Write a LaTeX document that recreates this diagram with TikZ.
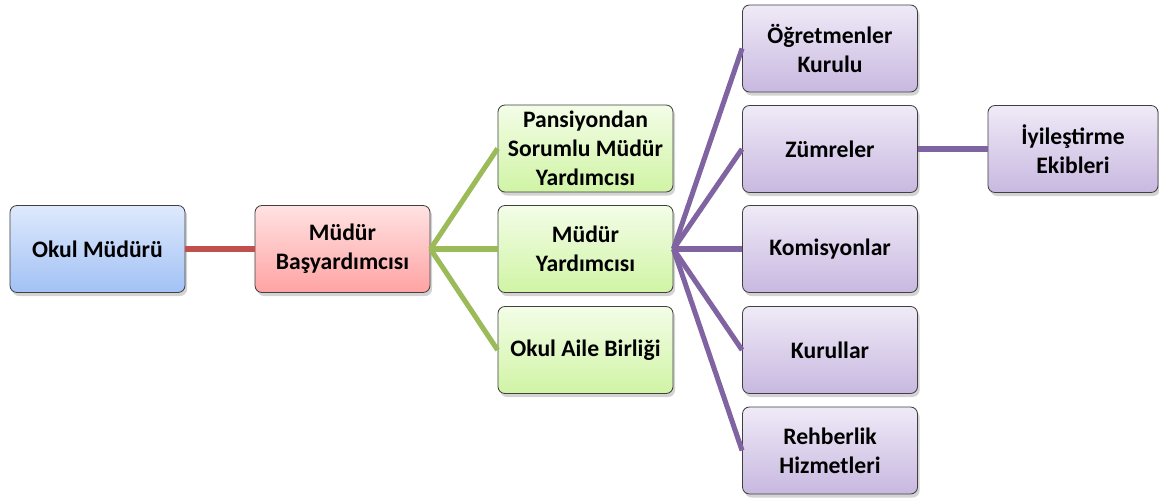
\documentclass[tikz,border=0pt]{standalone}
\usepackage{fontspec}
\setmainfont{Carlito}
\usetikzlibrary{shadows}

\definecolor{hatkirmizi}{HTML}{C0504D}
\definecolor{hatyesil}{HTML}{9BBB59}
\definecolor{hatmor}{HTML}{8064A2}

\tikzset{
  kutu/.style={draw=black!75, line width=0.6pt, rounded corners=5pt,
    minimum width=4.375cm, minimum height=2.175cm, align=center,
    font=\fontsize{16.8}{20.5}\selectfont\bfseries,
    drop shadow={shadow xshift=1.5pt, shadow yshift=-2.5pt, opacity=0.35}},
  mavi/.style={kutu, top color={rgb,255:red,222;green,233;blue,252}, bottom color={rgb,255:red,162;green,193;blue,245}},
  pembe/.style={kutu, top color={rgb,255:red,255;green,226;blue,226}, bottom color={rgb,255:red,255;green,163;blue,163}},
  yesil/.style={kutu, top color={rgb,255:red,243;green,253;blue,231}, bottom color={rgb,255:red,208;green,244;blue,165}},
  mor/.style={kutu, top color={rgb,255:red,239;green,234;blue,247}, bottom color={rgb,255:red,200;green,184;blue,224}},
  hat/.style={line width=3.6pt}
}

\begin{document}
\begin{tikzpicture}[x=0.025cm, y=-0.025cm]
    \useasboundingbox (0, 0) rectangle (1159, 500);

    \node[mavi] (okul) at (97.5, 249) {Okul Müdürü};
    \node[pembe] (basyar) at (342.5, 249) {Müdür\\Başyardımcısı};

    \node[yesil] (pansiyon) at (585.5, 148.5) {Pansiyondan\\Sorumlu Müdür\\Yardımcısı};
    \node[yesil] (myard) at (585.5, 249) {Müdür\\Yardımcısı};
    \node[yesil] (aile) at (585.5, 350) {Okul Aile Birliği};

    \node[mor] (ogretmen) at (830, 48.5) {Öğretmenler\\Kurulu};
    \node[mor] (zumre) at (830, 149) {Zümreler};
    \node[mor] (komisyon) at (830, 249) {Komisyonlar};
    \node[mor] (kurul) at (830, 350) {Kurullar};
    \node[mor] (rehber) at (830, 450.5) {Rehberlik\\Hizmetleri};

    \node[mor, minimum width=4.25cm] (iyiles) at (1073, 149) {İyileştirme\\Ekibleri};

    % baglantilar
    \draw[hat, hatkirmizi] (okul.east) -- (basyar.west);

    \begin{scope}[hat, hatyesil]
      \draw (basyar.east) -- (pansiyon.west);
      \draw (basyar.east) -- (myard.west);
      \draw (basyar.east) -- (aile.west);
    \end{scope}

    \begin{scope}[hat, hatmor]
      \foreach \hedef in {ogretmen, zumre, komisyon, kurul, rehber}
        \draw (myard.east) -- (\hedef.west);
      \draw (zumre.east) -- (iyiles.west);
    \end{scope}
  \end{tikzpicture}
\end{document}
